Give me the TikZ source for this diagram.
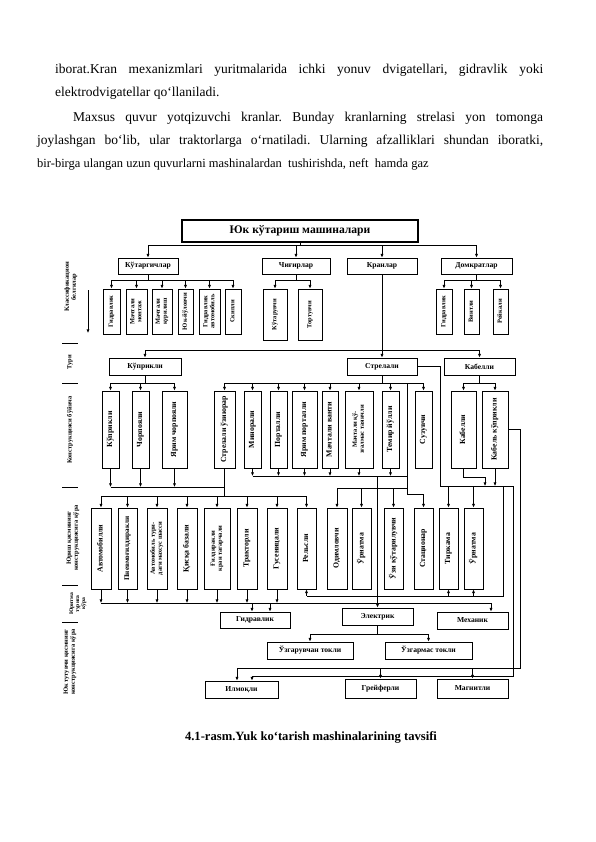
\documentclass[tikz,border=0pt]{standalone}
\usepackage{fontspec}
\setmainfont{Liberation Serif}
\usetikzlibrary{arrows.meta}
\frenchspacing
\newcommand\fsA{\bfseries\fontsize{6.4}{6.8}\selectfont}
\newcommand\fsB{\bfseries\fontsize{7.8}{8.2}\selectfont}
\newcommand\HB[7][]{\node[hb,#1,minimum width={(#5)-(#3)},minimum height={(#6)-(#4)}] (#2) at ({((#3)+(#5))/2},{((#4)+(#6))/2}) {#7};}
\newcommand\VB[7][]{\node[vb,#1,minimum width={(#5)-(#3)},minimum height={(#6)-(#4)}] (#2) at ({((#3)+(#5))/2},{((#4)+(#6))/2}) {\rotatebox{90}{\begin{tabular}{@{}c@{}}#7\end{tabular}}};}
\begin{document}
\begin{tikzpicture}[x=1pt,y=-1pt,
  hb/.style={draw,line width=0.9pt,inner sep=0pt,font=\bfseries\fontsize{7.6}{8.4}\selectfont},
  vb/.style={draw,line width=0.9pt,inner sep=0pt,font=\fsB},
  arr/.style={-{Latex[length=3.6pt,width=3.2pt]},line width=0.7pt},
  ln/.style={line width=0.7pt},
  body/.style={anchor=base west,inner sep=0pt,font=\fontsize{13.5}{15}\selectfont},
  lbl/.style={inner sep=0pt,font=\bfseries\fontsize{6.4}{6.9}\selectfont}]
\path[use as bounding box,fill=white] (0,0) rectangle (596,842);

% ---------- body text ----------
\node[body] (t1) at (55,74) {\hbox to 488pt{iborat.Kran mexanizmlari yuritmalarida ichki yonuv dvigatellari, gidravlik yoki}};
\node[body] (t2) at (55,97) {elektrodvigatellar qo‘llaniladi.};
\node[body] (t3) at (73,122) {\hbox to 470pt{Maxsus quvur yotqizuvchi kranlar. Bunday kranlarning strelasi yon tomonga}};
\node[body] (t4) at (37,145) {\hbox to 506pt{joylashgan bo‘lib, ular traktorlarga o‘rnatiladi. Ularning afzalliklari shundan iboratki,}};
\node[body,font=\fontsize{12.5}{14}\selectfont] (t5) at (37,168) {bir-birga ulangan uzun quvurlarni mashinalardan\ \ tushirishda, neft\ \ hamda gaz};
\node[anchor=base,inner sep=0pt,font=\bfseries\fontsize{12.6}{14}\selectfont] (cap) at (311,740) {4.1-rasm.Yuk ko‘tarish mashinalarining tavsifi};

% ---------- helper coordinates ----------
\foreach \v in {245,280,350,383,476,477,486,487,488,494,496,596,603,634,668,676}
  \coordinate (y\v) at (0,\v);
\foreach \v in {237,252,270,407,440,485,491,503,513,520}
  \coordinate (x\v) at (\v,0);

% ---------- left labels ----------
\node[lbl] (l1) at (71,287) {\rotatebox{90}{\begin{tabular}{@{}c@{}}Классификацион\\белгилар\end{tabular}}};
\coordinate (la1) at (88,290);
\coordinate (la2) at (88,333);
\draw[arr,line width=0.9pt] (la1) -- (la2);
\node[lbl] (l2) at (70,362) {\rotatebox{90}{Тури}};
\node[lbl] (l3) at (70,430) {\rotatebox{90}{Конструкцияси бўйича}};
\node[lbl] (l4) at (73,538) {\rotatebox{90}{\begin{tabular}{@{}c@{}}Юриш қисмининг\\конструкциясига кўра\end{tabular}}};
\node[lbl,font=\bfseries\fontsize{5.6}{6.0}\selectfont] (l5) at (78,604) {\rotatebox{90}{\begin{tabular}{@{}c@{}}Юритма\\турига\\кўра\end{tabular}}};
\node[lbl] (l6) at (70,662) {\rotatebox{90}{\begin{tabular}{@{}c@{}}Юк тутувчи қисмнинг\\конструкциясига кўра\end{tabular}}};
\foreach \v/\n in {343/s1,383/s2,487/s3,585/s4,622/s5}{
  \coordinate (\n a) at (62,\v); \coordinate (\n b) at (78,\v);
  \draw[line width=0.9pt] (\n a) -- (\n b);}

% ---------- boxes ----------
\HB[line width=1.5pt,font=\bfseries\fontsize{11.6}{13}\selectfont]{T}{182}{220}{418}{242}{Юк кўтариш машиналари}
\HB{K1}{118}{258}{178}{274}{Кўтаргичлар}
\HB{K2}{262}{258}{330}{274}{Чиғирлар}
\HB{K3}{347}{258}{417}{274}{Кранлар}
\HB{K4}{441}{258}{512}{274}{Домкратлар}

\VB[font=\fsA]{C1}{103}{289}{120}{334}{Гидравлик}
\VB[font=\fsA]{C2}{126}{289}{147}{334}{Мачтали\\монтаж}
\VB[font=\fsA]{C3}{152}{289}{172}{334}{Мачтали\\қурилиш}
\VB[font=\fsA]{C4}{178}{289}{193}{334}{Юк-йўловчи}
\VB[font=\fsA]{C5}{199}{289}{220}{334}{Гидравлик\\автомобиль}
\VB[font=\fsA]{C6}{225}{289}{241}{334}{Скипли}
\VB[font=\fsA]{C7}{263}{289}{287}{340}{Кўтарувчи}
\VB[font=\fsA]{C8}{298}{289}{322}{340}{Тортувчи}
\VB[font=\fsA]{C9}{436}{289}{452}{334}{Гидравлик}
\VB[font=\fsA]{C10}{464}{289}{479}{334}{Винтли}
\VB[font=\fsA]{C11}{493}{289}{508}{334}{Рейкали}

\HB{P1}{109}{358}{181}{375}{Кўприкли}
\HB{P2}{347}{358}{417}{375}{Стрелали}
\HB{P3}{444}{358}{515}{375}{Кабелли}

\VB{Q1}{102}{391}{119}{468}{Кўприкли}
\VB{Q2}{132}{391}{149}{468}{Чорпояли}
\VB{Q3}{162}{391}{187}{468}{Ярим чорпояли}
\VB{Q4}{214}{391}{235}{468}{Стрелали ўзиюрар}
\VB{Q5}{244}{391}{261}{468}{Минорали}
\VB{Q6}{270}{391}{287}{468}{Порталли}
\VB{Q7}{292}{391}{317}{468}{Ярим порталли}
\VB{Q8}{322}{391}{338}{468}{Мачтали ванти}
\VB[font=\fsA]{Q9}{345}{391}{373}{468}{Мачтали қў-\\зғалмас таянчли}
\VB{Q10}{382}{391}{399}{468}{Темир йўлли}
\VB{Q11}{415}{391}{432}{468}{Сузувчи}
\VB{Q12}{451}{391}{476}{468}{Кабелли}
\VB{Q13}{482}{391}{508}{468}{Кабель кўприкли}

\VB{R1}{91}{508}{111}{589}{Автомобилли}
\VB[font=\bfseries\fontsize{7.2}{7.6}\selectfont]{R2}{118}{508}{137}{589}{Пневмоғилдиракли}
\VB[font=\fsA]{R3}{147}{508}{167}{589}{Автомобиль тури-\\даги махсус шасси}
\VB{R4}{177}{508}{197}{589}{Қисқа базали}
\VB[font=\fsA]{R5}{204}{508}{230}{589}{Ғилдиракли\\кран тагарчали}
\VB{R6}{237}{508}{257}{589}{Тракторли}
\VB{R7}{267}{508}{287}{589}{Гусеницали}
\VB{R8}{297}{508}{316}{589}{Рельсли}
\VB{R9}{327}{508}{347}{589}{Одимловчи}
\VB{R10}{352}{508}{371}{589}{Ўрнатма}
\VB{R11}{384}{508}{403}{589}{Ўзи кўтарилувчи}
\VB{R12}{414}{508}{433}{589}{Стационар}
\VB{R13}{439}{508}{458}{589}{Тиркама}
\VB{R14}{464}{508}{483}{589}{Ўрнатма}

\HB{D1}{220}{612}{290}{628}{Гидравлик}
\HB{D2}{342}{608}{413}{625}{Электрик}
\HB{D3}{437}{612}{508}{629}{Механик}
\HB{E1}{267}{642}{353}{659}{Ўзгарувчан токли}
\HB{E2}{385}{642}{472}{659}{Ўзгармас токли}
\HB{F1}{205}{681}{278}{698}{Илмоқли}
\HB{F2}{345}{679}{416}{698}{Грейферли}
\HB{F3}{437}{679}{508}{698}{Магнитли}

% ---------- connectors: upper part ----------
\draw[ln] (T.south) -- (T.south |- y245);
\draw[ln] (K1 |- y245) -- (K4 |- y245);
\foreach \n in {K1,K2,K3,K4} \draw[arr] (\n |- y245) -- (\n.north);

\draw[ln] (K1.south) -- (K1.south |- y280);
\draw[ln] (C1 |- y280) -- (C6 |- y280);
\foreach \n in {C1,C2,C3,C4,C5,C6} \draw[arr] (\n |- y280) -- (\n.north);
\draw[ln] (K2.south) -- (K2.south |- y280);
\draw[ln] (C7 |- y280) -- (C8 |- y280);
\foreach \n in {C7,C8} \draw[arr] (\n |- y280) -- (\n.north);
\draw[ln] (K4.south) -- (K4.south |- y280);
\draw[ln] (C9 |- y280) -- (C11 |- y280);
\foreach \n in {C9,C10,C11} \draw[arr] (\n |- y280) -- (\n.north);

\draw[ln] (K3.south) -- (K3.south |- y350);
\draw[ln] (P1 |- y350) -- (P3 |- y350);
\foreach \n in {P1,P2,P3} \draw[arr] (\n |- y350) -- (\n.north);

\draw[ln] (P1.south) -- (P1.south |- y383);
\draw[ln] (Q1 |- y383) -- (Q3 |- y383);
\foreach \n in {Q1,Q2,Q3} \draw[arr] (\n |- y383) -- (\n.north);
\draw[ln] (P2.south) -- (P2.south |- y383);
\draw[ln] (Q4 |- y383) -- (Q11 |- y383);
\foreach \n in {Q4,Q5,Q6,Q7,Q8,Q9,Q10,Q11} \draw[arr] (\n |- y383) -- (\n.north);
\draw[ln] (P3.south) -- (P3.south |- y383);
\draw[ln] (Q12 |- y383) -- (Q13 |- y383);
\foreach \n in {Q12,Q13} \draw[arr] (\n |- y383) -- (\n.north);

% ---------- connectors: lower part ----------
\foreach \n in {Q1,Q2,Q3} \draw[arr] (\n.south) -- (\n.south |- y487);
\draw[ln] (Q1.south |- y487) -- (Q4.south |- y487);
\draw[ln] (Q4.south) -- (Q4.south |- y496);
\draw[ln] (R1 |- y496) -- (R8 |- y496);
\foreach \n in {R1,R2,R3,R4,R5,R6,R7,R8} \draw[arr] (\n |- y496) -- (\n.north);

\foreach \n in {Q5,Q6,Q7,Q8,Q9,Q10} \draw[arr] (\n.south) -- (\n.south |- y476);
\draw[ln] (Q5.south |- y476) -- (x407 |- y476);
\draw[ln] (x407 |- y383) -- (x407 |- y494);
\draw[arr] (x407 |- y494) -| (R12.north);
\draw[ln] (R9 |- y488) -- (x407 |- y488);
\foreach \n in {R9,R10,R11} \draw[arr] (\n |- y488) -- (\n.north);
\draw[arr] (D2.north |- y476) -- (D2.north);

\draw[ln] (P2.east) -- (P2.east -| x440) -- (x440 |- y486) -- (x513 |- y486);
\foreach \n in {R13,R14} \draw[arr] (\n |- y486) -- (\n.north);
\draw[arr] (Q12.south) -- (Q12.south |- y477) -- (x485 |- y477) -- (x485 |- y486);
\draw[arr] (Q13.south) -- (Q13.south |- y486);

\draw[ln] (x503 |- y486) -- (x503 |- y596) -- (R8.south |- y596);
\foreach \n in {R8,R13,R14} \draw[arr] (\n.south |- y596) -- (\n.south);

\foreach \n in {R1,R2,R3,R4,R5,R6,R7} \draw[arr] (\n.south) -- (\n.south |- y603);
\draw[ln] (R1.south |- y603) -- (x491 |- y603);
\draw[arr] (x491 |- y603) -- (x491 |- D3.north);
\draw[arr] (x252 |- y603) -- (x252 |- D1.north);
\draw[arr] (x270 |- y603) -- (x270 |- D1.north);

\draw[ln] (D2.south) -- (D2.south |- y634);
\draw[ln] (E1 |- y634) -- (E2 |- y634);
\foreach \n in {E1,E2} \draw[arr] (\n |- y634) -- (\n.north);

\draw[ln] (Q13.east) -- (Q13.east -| x520) -- (x520 |- y668) -- (x237 |- y668);
\draw[arr] (x237 |- y668) -- (x237 |- F1.north);
\foreach \n in {F2,F3} \draw[arr] (\n |- y668) -- (\n.north);
\draw[ln] (x513 |- y486) -- (x513 |- y676) -- (x252 |- y676);
\draw[arr] (x252 |- y676) -- (x252 |- F1.north);
\end{tikzpicture}
\end{document}
